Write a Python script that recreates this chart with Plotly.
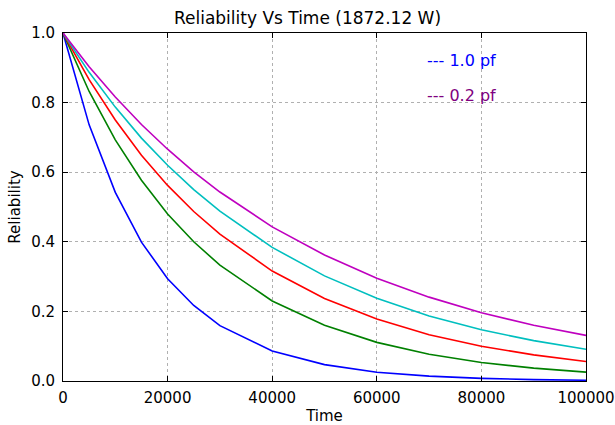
import plotly.graph_objects as go

time = [0, 5000, 10000, 15000, 20000, 25000, 30000, 40000, 50000, 60000, 70000, 80000, 90000, 100000]
rel_blue = [1.0, 0.736, 0.542, 0.399, 0.294, 0.217, 0.159, 0.086, 0.047, 0.025, 0.014, 0.0075, 0.004, 0.0022]
rel_green = [1.0, 0.832, 0.693, 0.577, 0.480, 0.400, 0.333, 0.230, 0.160, 0.111, 0.077, 0.053, 0.037, 0.0255]
rel_red = [1.0, 0.866, 0.750, 0.649, 0.562, 0.487, 0.422, 0.316, 0.237, 0.178, 0.133, 0.100, 0.075, 0.056]
rel_cyan = [1.0, 0.887, 0.787, 0.698, 0.620, 0.550, 0.488, 0.384, 0.302, 0.238, 0.187, 0.147, 0.116, 0.091]
rel_magenta = [1.0, 0.903, 0.816, 0.737, 0.666, 0.601, 0.543, 0.443, 0.362, 0.295, 0.241, 0.196, 0.160, 0.131]

series = [
    (rel_blue, "#0000ff"),
    (rel_green, "#008000"),
    (rel_red, "#ff0000"),
    (rel_cyan, "#00bfbf"),
    (rel_magenta, "#bf00bf"),
]

x_ticks = [0, 20000, 40000, 60000, 80000, 100000]
y_ticks = [0.0, 0.2, 0.4, 0.6, 0.8, 1.0]

FONT = "DejaVu Sans"

fig = go.Figure()
for vals, col in series:
    fig.add_trace(go.Scatter(x=time, y=vals, mode="lines",
                             line=dict(color=col, width=1.6), showlegend=False,
                             hoverinfo="skip"))

fig.add_annotation(x=0.692, y=0.920, xref="paper", yref="paper", xanchor="left", yanchor="middle",
                   text="--- 1.0 pf", showarrow=False, font=dict(family=FONT, size=16, color="#0000ff"))
fig.add_annotation(x=0.692, y=0.819, xref="paper", yref="paper", xanchor="left", yanchor="middle",
                   text="--- 0.2 pf", showarrow=False, font=dict(family=FONT, size=16, color="#800080"))

axis_common = dict(showline=True, linecolor="black", linewidth=1, mirror="ticks",
                   ticks="inside", ticklen=5, tickcolor="black", automargin=False,
                   showgrid=True, gridcolor="#b0b0b0", griddash="dot", gridwidth=1,
                   zeroline=False, tickfont=dict(family=FONT, size=15, color="black"))

fig.update_layout(
    width=615, height=425,
    margin=dict(l=63, r=29, t=33, b=44),
    paper_bgcolor="white", plot_bgcolor="white",
    title=dict(text="Reliability Vs Time (1872.12 W)", x=0.5, xanchor="center",
               y=1 - 18 / 425, yanchor="middle",
               font=dict(family=FONT, size=17, color="black")),
    xaxis=dict(range=[0, 100000], tickvals=x_ticks, ticktext=[str(v) for v in x_ticks],
               title=dict(text="Time", font=dict(family=FONT, size=15, color="black"), standoff=8),
               ticklabelstandoff=3,
               **axis_common),
    yaxis=dict(range=[0, 1.0], tickvals=y_ticks, ticktext=[f"{v:.1f}" for v in y_ticks],
               title=dict(text="Reliability", font=dict(family=FONT, size=15, color="black"), standoff=6),
               ticklabelstandoff=4,
               **axis_common),
)

fig.write_html("out.html", config={"displayModeBar": False},
               post_script="document.body.style.margin='0';document.body.style.overflow='hidden';")
